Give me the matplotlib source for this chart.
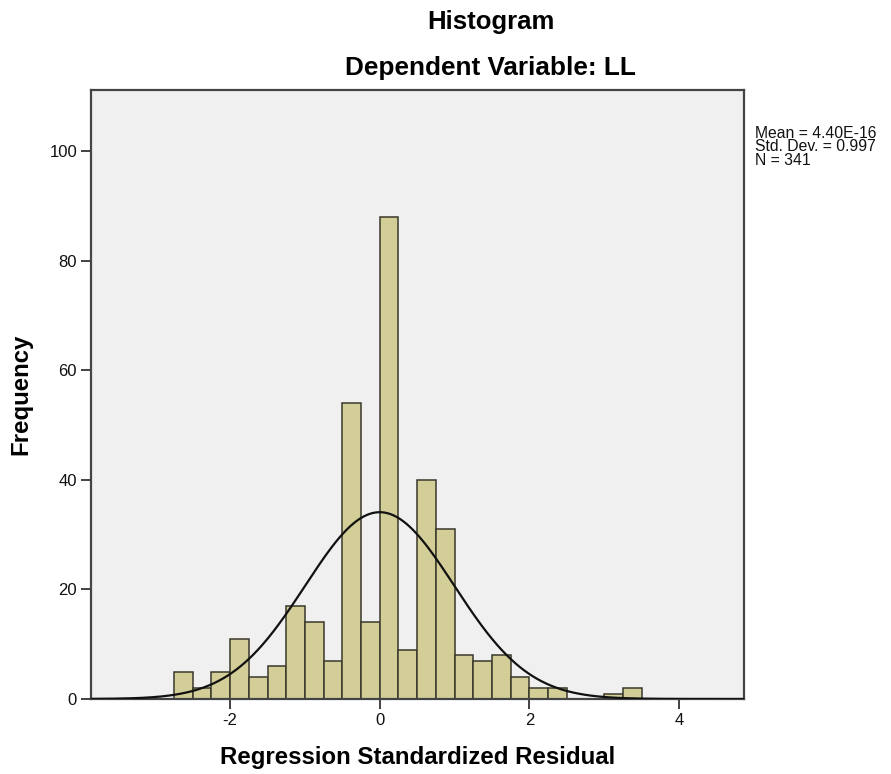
import numpy as np
import matplotlib
matplotlib.use("Agg")
import matplotlib.pyplot as plt

plt.rcParams['font.family'] = ['Liberation Sans', 'DejaVu Sans']

# Data
bin_edges = [-2.75, -2.5, -2.25, -2.0, -1.75, -1.5, -1.25, -1.0, -0.75, -0.5, -0.25,
             0.0, 0.25, 0.5, 0.75, 1.0, 1.25, 1.5, 1.75, 2.0, 2.25, 2.5, 2.75, 3.0, 3.25, 3.5]
counts = [5, 2, 5, 11, 4, 6, 17, 14, 7, 54, 14, 88, 9, 40, 31, 8, 7, 8, 4, 2, 2, 0, 0, 1, 2]
mean_val = 4.40e-16
std_val = 0.997
n_val = 341
xticks = [-2, 0, 2, 4]
yticks = [0, 20, 40, 60, 80, 100]

W, H = 891, 774
fig = plt.figure(figsize=(W / 100, H / 100), dpi=100)
fig.patch.set_facecolor('white')

left, right, top, bottom = 91, 744, 89.5, 699
ax = fig.add_axes([left / W, 1 - bottom / H, (right - left) / W, (bottom - top) / H])
ax.set_facecolor('#F0F0F0')

edges = np.array(bin_edges)
widths = np.diff(edges)
ax.bar(edges[:-1], counts, width=widths, align='edge', color='#D3CE97',
       edgecolor='#3A382A', linewidth=1.1, zorder=2)

xlim = (-3.86, 4.87)
xs = np.linspace(xlim[0], xlim[1], 600)
bw = widths[0]
ys = n_val * bw / (std_val * np.sqrt(2 * np.pi)) * np.exp(-0.5 * ((xs - mean_val) / std_val) ** 2)
ax.plot(xs, ys, color='#111111', linewidth=1.6, zorder=3)

ax.set_xlim(*xlim)
ax.set_ylim(0, 111.3)
ax.set_xticks(xticks)
ax.set_xticklabels([str(t) for t in xticks])
ax.set_yticks(yticks)
ax.tick_params(axis='both', direction='out', length=7, width=1.3, colors='#333333',
               labelsize=12, labelcolor='#111111', pad=3)
ax.tick_params(top=False, right=False)
for s in ax.spines.values():
    s.set_color('#444444')
    s.set_linewidth(1.6)

ax.set_xlabel('Regression Standardized Residual', fontsize=17.3, fontweight='bold', labelpad=13)
ax.set_ylabel('Frequency', fontsize=17.3, fontweight='bold', labelpad=12)

fig.text(491 / W, 1 - 22 / H, 'Histogram', ha='center', va='center',
         fontsize=18.5, fontweight='bold')
fig.text(490 / W, 1 - 68 / H, 'Dependent Variable: LL', ha='center', va='center',
         fontsize=18.8, fontweight='bold')

fig.text(755 / W, 1 - 126 / H,
         'Mean = 4.40E-16\nStd. Dev. = 0.997\nN = 341',
         ha='left', va='top', fontsize=11.3, linespacing=0.86, color='#111111')

fig.savefig('out.png', dpi=100, facecolor='white')
